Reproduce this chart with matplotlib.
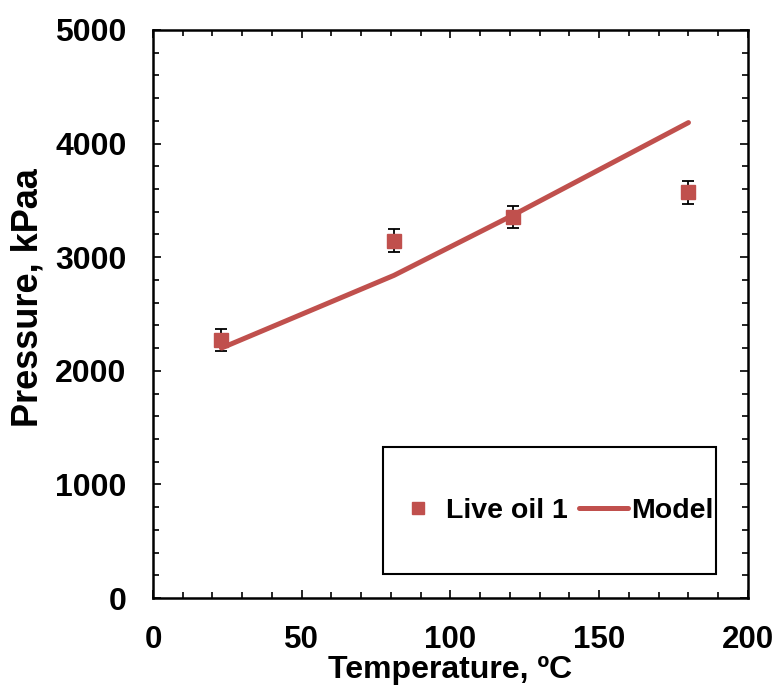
import matplotlib
matplotlib.use("Agg")
import matplotlib.pyplot as plt
from matplotlib.patches import Rectangle
from matplotlib.ticker import MultipleLocator

# Measured data: Live oil 1
temp_meas = [23, 81, 121, 180]
pres_meas = [2270, 3145, 3355, 3570]
pres_err = [100, 100, 95, 100]

# Model prediction
temp_model = [23, 81, 121, 180]
pres_model = [2200, 2840, 3370, 4185]

red = "#C0504D"
font = "Liberation Sans"

fig = plt.figure(figsize=(7.81, 6.88), dpi=100)
ax = fig.add_axes([0.1959, 0.1308, 0.7618, 0.8256])

ax.errorbar(temp_meas, pres_meas, yerr=pres_err, fmt="none", ecolor="black",
            elinewidth=1.3, capsize=4.5, capthick=1.3, zorder=2)
ax.plot(temp_meas, pres_meas, linestyle="none", marker="s", markersize=10.5,
        color=red, label="Live oil 1", zorder=3)
ax.plot(temp_model, pres_model, color=red, linewidth=3.6,
        solid_capstyle="round", label="Model", zorder=4)

ax.set_xlim(0, 200)
ax.set_ylim(0, 5000)
ax.xaxis.set_major_locator(MultipleLocator(50))
ax.xaxis.set_minor_locator(MultipleLocator(10))
ax.yaxis.set_major_locator(MultipleLocator(1000))
ax.yaxis.set_minor_locator(MultipleLocator(200))
ax.tick_params(which="both", direction="in", top=True, right=True, width=1.2)
ax.tick_params(which="major", length=6)
ax.tick_params(which="minor", length=4)
ax.tick_params(axis="x", which="major", pad=19.5)
ax.tick_params(axis="y", which="major", pad=19)
for s in ax.spines.values():
    s.set_linewidth(1.8)

for lab in ax.get_xticklabels():
    lab.set_fontfamily(font)
    lab.set_fontweight("bold")
    lab.set_fontsize(22.5)
for lab in ax.get_yticklabels():
    lab.set_fontfamily(font)
    lab.set_fontweight("bold")
    lab.set_fontsize(23)

ax.set_xlabel("Temperature, ºC", fontfamily=font, fontweight="bold", fontsize=23)
ax.set_ylabel("Pressure, kPaa", fontfamily=font, fontweight="bold", fontsize=26)
ax.xaxis.set_label_coords(0.5, -0.100)
ax.yaxis.set_label_coords(-0.181, 0.528)

# Legend box
ax.add_patch(Rectangle((0.3866, 0.0423), 0.5594, 0.2235, transform=ax.transAxes,
                       fill=False, edgecolor="black", linewidth=1.5, zorder=5))
ax.legend(loc="center", bbox_to_anchor=(0.673, 0.154), ncol=2, frameon=False,
          prop={"family": font, "weight": "bold", "size": 20.5},
          handlelength=1.72, handletextpad=0.13, columnspacing=0.39,
          markerscale=0.8)

fig.savefig("out.png", dpi=100)
